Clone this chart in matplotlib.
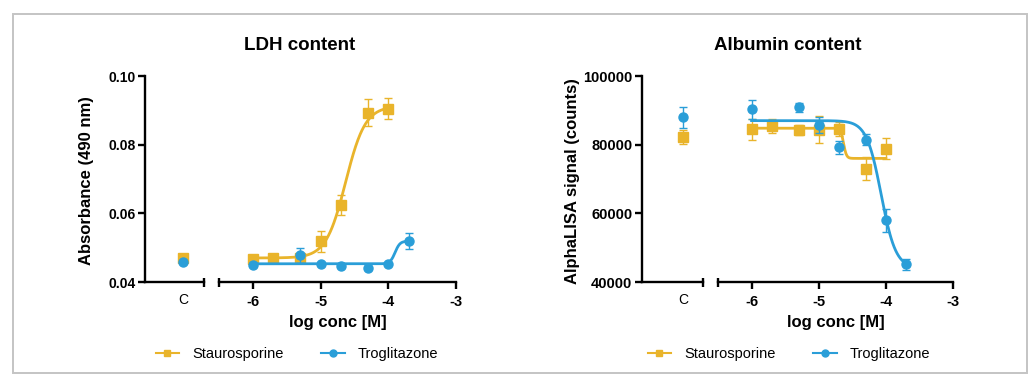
import numpy as np
import matplotlib
matplotlib.use("Agg")
import matplotlib.pyplot as plt
from matplotlib.lines import Line2D
from matplotlib.patches import Rectangle

plt.rcParams['font.family'] = ['Liberation Sans', 'DejaVu Sans']

# ---------------- data ----------------
log_conc = [-6.0, -5.7, -5.3, -5.0, -4.7, -4.3, -4.0, -3.7]

# LDH content (absorbance 490 nm)
ldh_stau_c, ldh_stau_c_err = 0.0470, 0.0003
ldh_stau_x = [-6.0, -5.7, -5.3, -5.0, -4.7, -4.3, -4.0]
ldh_stau_y = [0.0467, 0.0470, 0.0470, 0.0518, 0.0624, 0.0893, 0.0905]
ldh_stau_err = [0.0004, 0.0003, 0.0004, 0.0032, 0.0028, 0.0040, 0.0030]
ldh_trog_c, ldh_trog_c_err = 0.0458, 0.0003
ldh_trog_x = [-6.0, -5.3, -5.0, -4.7, -4.3, -4.0, -3.7]
ldh_trog_y = [0.0449, 0.0478, 0.0452, 0.0447, 0.0441, 0.0452, 0.0519]
ldh_trog_err = [0.0002, 0.0022, 0.0002, 0.0002, 0.0002, 0.0002, 0.0024]
# fitted 4PL parameters: bottom, top, logEC50, hill, fit range
ldh_stau_fit = (0.0470, 0.0912, -4.63, 3.0, -6.0, -4.0)
ldh_trog_fit = (0.0453, 0.0519, -3.90, 12.0, -6.0, -3.7)

# Albumin content (AlphaLISA counts)
alb_stau_c, alb_stau_c_err = 82300, 2000
alb_stau_x = [-6.0, -5.7, -5.3, -5.0, -4.7, -4.3, -4.0]
alb_stau_y = [84500, 85500, 84300, 84400, 84500, 73000, 78800]
alb_stau_err = [3000, 2000, 1500, 4000, 2000, 3300, 3000]
alb_trog_c, alb_trog_c_err = 88000, 3100
alb_trog_x = [-6.0, -5.3, -5.0, -4.7, -4.3, -4.0, -3.7]
alb_trog_y = [90300, 90900, 85700, 79300, 81500, 58000, 45200]
alb_trog_err = [2800, 1300, 2400, 1900, 1600, 3400, 1600]
alb_stau_fit = (76000, 84800, -4.63, -20.0, -6.0, -4.0)
alb_trog_fit = (44000, 87000, -4.07, -4.0, -6.0, -3.7)

x_ticks = [-6, -5, -4, -3]
x_ticklabels = ['-6', '-5', '-4', '-3']
ldh_yticks = [0.04, 0.06, 0.08, 0.10]
ldh_yticklabels = ['0.04', '0.06', '0.08', '0.10']
alb_yticks = [40000, 60000, 80000, 100000]
alb_yticklabels = ['40000', '60000', '80000', '100000']
series_names = ['Staurosporine', 'Troglitazone']

GOLD = '#E9B42B'
BLUE = '#2A9ED8'

W, H = 1036, 381
fig = plt.figure(figsize=(W / 100, H / 100), dpi=100)


def fx(px):
    return px / W


def fy(py):
    return 1 - py / H


def fourpl(x, bottom, top, logec, hill):
    return bottom + (top - bottom) / (1 + 10 ** ((logec - x) * hill))


def panel(y_axis_px, c_end_px, main_start_px, main_end_px, c_pos_px,
          ylim, yticks, yticklabels, ytick_fs, title, ylabel, ylabel_px, title_cx,
          stau, trog, legend_cx):
    top_px, bot_px = 76, 282
    b = fy(bot_px)
    h = (bot_px - top_px) / H
    axc = fig.add_axes([fx(y_axis_px), b, fx(c_end_px - y_axis_px), h])
    axm = fig.add_axes([fx(main_start_px), b, fx(main_end_px - main_start_px), h])
    frac = (c_pos_px - y_axis_px) / (c_end_px - y_axis_px)
    axc.set_xlim(-frac, 1 - frac)
    axm.set_xlim(-6.5, -3)
    for ax in (axc, axm):
        ax.set_ylim(*ylim)
        ax.spines['top'].set_visible(False)
        ax.spines['right'].set_visible(False)
        ax.spines['bottom'].set_linewidth(1.7)
        ax.spines['left'].set_linewidth(1.7)
        ax.patch.set_alpha(0)
    axm.spines['left'].set_visible(False)
    axm.set_yticks([])
    axc.set_yticks(yticks)
    axc.set_yticklabels(yticklabels, fontsize=ytick_fs, fontweight='bold')
    axc.tick_params(axis='y', direction='out', length=5, width=1.7, pad=2)
    axc.set_xticks([0])
    axc.set_xticklabels(['C'], fontsize=10)
    axc.tick_params(axis='x', length=0, pad=8)
    axm.set_xticks(x_ticks)
    axm.set_xticklabels(x_ticklabels, fontsize=10.5, fontweight='bold')
    axm.tick_params(axis='x', direction='out', length=5, width=1.7, pad=4)
    axm.set_xlabel('log conc [M]', fontsize=12, fontweight='bold', labelpad=5)
    d = 4.5 / (bot_px - top_px)
    axc.plot([1, 1], [-d, d], transform=axc.transAxes, color='black', lw=1.7,
             clip_on=False, solid_capstyle='butt')
    axm.plot([0, 0], [-d, d], transform=axm.transAxes, color='black', lw=1.7,
             clip_on=False, solid_capstyle='butt')
    fig.text(fx(title_cx), fy(45), title, fontsize=13.5, fontweight='bold',
             ha='center', va='center')
    fig.text(fx(ylabel_px), fy((top_px + bot_px) / 2 + 2), ylabel, fontsize=12,
             fontweight='bold', rotation=90, ha='center', va='center')

    for (cval, cerr, xs, ys, es, fit, color, marker, z) in (
            stau + (GOLD, 's', 3), trog + (BLUE, 'o', 4)):
        axc.errorbar([0], [cval], yerr=[cerr], fmt=marker, color=color, ms=6.5,
                     elinewidth=1, capsize=3, capthick=1, zorder=z, clip_on=False)
        axm.errorbar(xs, ys, yerr=es, fmt=marker, color=color, ms=6.5,
                     elinewidth=1, capsize=3, capthick=1, zorder=z, clip_on=False)
        bottom, top, logec, hill, x0, x1 = fit
        xx = np.linspace(x0, x1, 300)
        axm.plot(xx, fourpl(xx, bottom, top, logec, hill), color=color, lw=2.0,
                 zorder=z)

    handles = [Line2D([], [], color=GOLD, marker='s', ms=5, lw=1.5),
               Line2D([], [], color=BLUE, marker='o', ms=5, lw=1.5)]
    fig.legend(handles, series_names, loc='center',
               bbox_to_anchor=(fx(legend_cx), fy(354)), ncol=2, frameon=False,
               fontsize=10.5, handlelength=1.6, handletextpad=0.9,
               columnspacing=2.6)


panel(145, 204, 219, 456, 183, (0.04, 0.10), ldh_yticks, ldh_yticklabels, 10,
      'LDH content', 'Absorbance (490 nm)', 86, 300,
      (ldh_stau_c, ldh_stau_c_err, ldh_stau_x, ldh_stau_y, ldh_stau_err, ldh_stau_fit),
      (ldh_trog_c, ldh_trog_c_err, ldh_trog_x, ldh_trog_y, ldh_trog_err, ldh_trog_fit),
      297)
panel(642, 703, 718, 953, 683, (40000, 100000), alb_yticks, alb_yticklabels, 10.5,
      'Albumin content', 'AlphaLISA signal (counts)', 572, 788,
      (alb_stau_c, alb_stau_c_err, alb_stau_x, alb_stau_y, alb_stau_err, alb_stau_fit),
      (alb_trog_c, alb_trog_c_err, alb_trog_x, alb_trog_y, alb_trog_err, alb_trog_fit),
      789)

fig.patches.append(Rectangle((fx(13), fy(373)), fx(1027 - 13), (373 - 14) / H,
                             transform=fig.transFigure, fill=False,
                             edgecolor='#c4c4c4', lw=1.4))

fig.savefig('out.png', dpi=100)
